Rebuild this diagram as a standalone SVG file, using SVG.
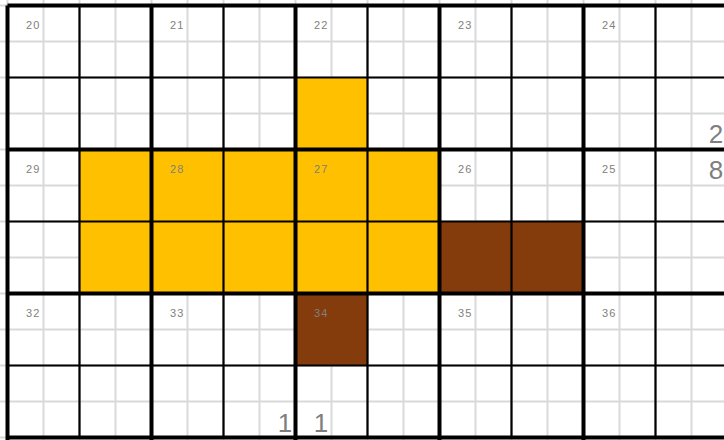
<svg xmlns="http://www.w3.org/2000/svg" width="724" height="440" viewBox="0 0 724 440">
<style>
.light{stroke:#d9d9d9;stroke-width:2;fill:none}
.med{stroke:#000;stroke-width:2.2;fill:none}
.thick{stroke:#000;stroke-width:4;fill:none}
.y{fill:#ffc000}
.b{fill:#843c0c}
.lbl{font-family:"Liberation Sans",Arial,sans-serif;font-size:11px;fill:#808080;letter-spacing:1.2px}
.big{font-family:"Liberation Sans",Arial,sans-serif;font-size:26px;fill:#7f7f7f;text-anchor:middle}
</style>
<rect width="724" height="440" fill="#fff"/>
<g id="light-grid" class="light">
<path d="M7.5 0V440M43.5 0V440M79.5 0V440M115.5 0V440M151.5 0V440M187.5 0V440M223.5 0V440M259.5 0V440M295.5 0V440M331.5 0V440M367.5 0V440M403.5 0V440M439.5 0V440M475.5 0V440M511.5 0V440M547.5 0V440M583.5 0V440M619.5 0V440M655.5 0V440M691.5 0V440"/>
<path d="M0 5.5H724M0 41.5H724M0 77.5H724M0 113.5H724M0 149.5H724M0 185.5H724M0 221.5H724M0 257.5H724M0 293.5H724M0 329.5H724M0 365.5H724M0 401.5H724M0 437.5H724"/>
</g>
<g id="fills">
<rect class="y" x="295.5" y="77.5" width="72" height="72"/>
<rect class="y" x="79.5" y="149.5" width="360" height="144"/>
<rect class="b" x="439.5" y="221.5" width="144" height="72"/>
<rect class="b" x="295.5" y="293.5" width="72" height="72"/>
</g>
<g id="medium-grid" class="med">
<path d="M79.5 5.5V437.5M223.5 5.5V437.5M367.5 5.5V437.5M511.5 5.5V437.5M655.5 5.5V437.5"/>
<path d="M7.5 77.5H724M7.5 221.5H724M7.5 365.5H724"/>
</g>
<g id="thick-grid" class="thick">
<path d="M7.5 5.5V440M151.5 5.5V440M295.5 5.5V440M439.5 5.5V440M583.5 5.5V440"/>
<path d="M7.5 5.5H724M7.5 149.5H724M7.5 293.5H724M7.5 437.5H724"/>
</g>
<g id="labels" class="lbl">
<text x="26" y="29">20</text>
<text x="170" y="29">21</text>
<text x="314" y="29">22</text>
<text x="458" y="29">23</text>
<text x="602" y="29">24</text>
<text x="26" y="173">29</text>
<text x="170" y="173">28</text>
<text x="314" y="173">27</text>
<text x="458" y="173">26</text>
<text x="602" y="173">25</text>
<text x="26" y="317">32</text>
<text x="170" y="317">33</text>
<text x="314" y="317">34</text>
<text x="458" y="317">35</text>
<text x="602" y="317">36</text>
</g>
<g id="big-digits" class="big">
<text x="716" y="143">2</text>
<text x="716" y="179">8</text>
<text x="285" y="432">1</text>
<text x="321" y="432">1</text>
</g>
</svg>
